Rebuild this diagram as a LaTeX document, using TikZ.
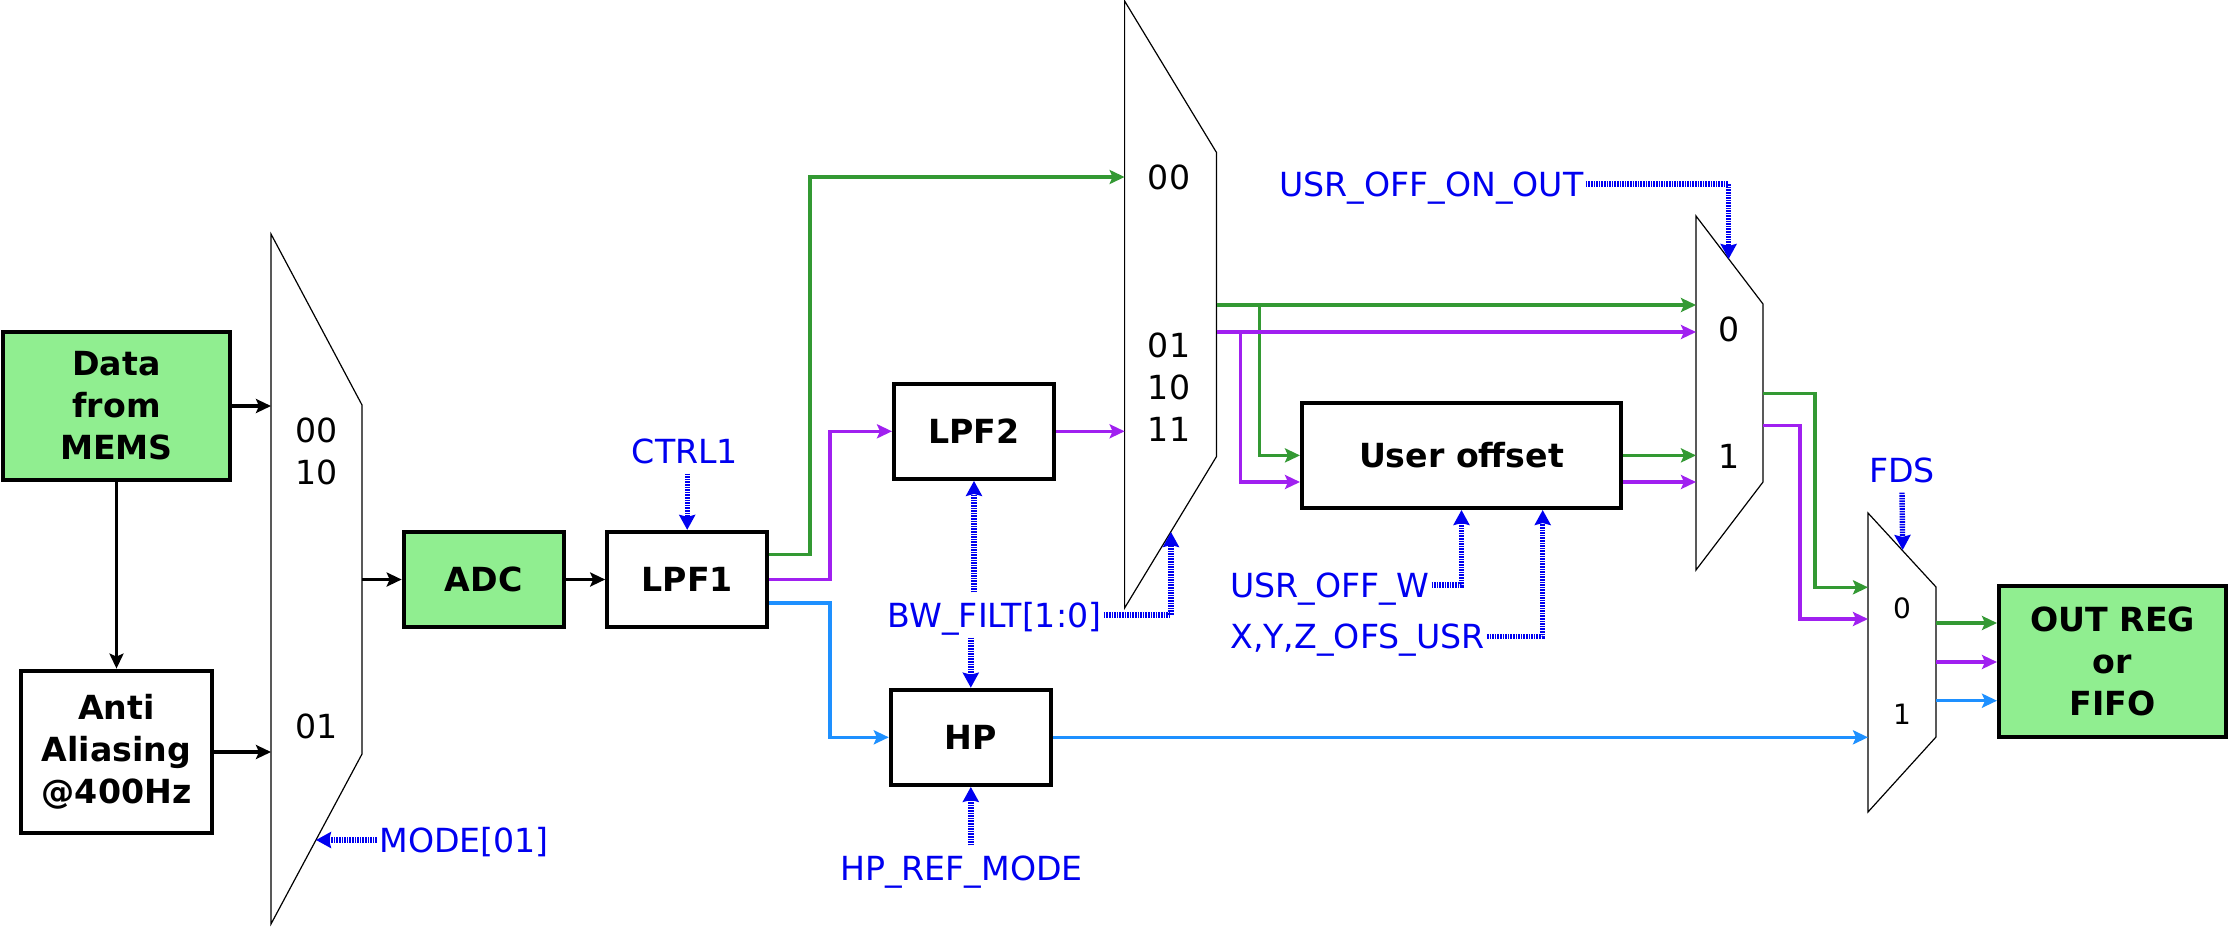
\documentclass[tikz,border=0pt]{standalone}
\usepackage{fontspec}
\setmainfont{DejaVu Sans}
\usetikzlibrary{arrows.meta, positioning}

\definecolor{blockgreen}{RGB}{144,238,144}
\definecolor{lpgreen}{RGB}{51,153,51}
\definecolor{lppurple}{RGB}{160,32,240}
\definecolor{hpblue}{RGB}{30,144,255}
\definecolor{regblue}{RGB}{0,0,240}

\begin{document}
\begin{tikzpicture}[
  x=0.5pt, y=-0.5pt,
  box/.style={draw, line width=2pt, rectangle, align=center, inner sep=0pt, minimum width=80pt, minimum height=47.6pt, font=\fontsize{16.6}{21}\selectfont\bfseries},
  greenbox/.style={box, fill=blockgreen},
  mux/.style={draw, line width=0.6pt},
  sel/.style={inner sep=0pt, align=center, font=\fontsize{16.6}{21}\selectfont},
  reg/.style={inner xsep=1pt, inner ysep=5pt, text height=12.2pt, text depth=0pt, text=regblue, font=\fontsize{16.6}{21}\selectfont},
  arrow/.style={-{Stealth[length=7.5pt, width=7pt, inset=1.5pt]}, line width=1.6pt},
  greenarrow/.style={arrow, lpgreen},
  purplearrow/.style={arrow, lppurple},
  bluearrow/.style={arrow, hpblue},
  regarrow/.style={-{Stealth[length=7.5pt, width=8pt, inset=1pt]}, regblue, line width=2.7pt, dash pattern=on 0.8pt off 0.5pt}
]
\path[use as bounding box, fill=white] (0,0) rectangle (2229,927);

% Nodes
\node (data) [greenbox, minimum width=113.5pt, minimum height=74pt] at (116.5,406) {Data\\from\\MEMS};
\node (anti) [box, minimum width=95.7pt, minimum height=81.4pt] at (116.5,752) {Anti\\Aliasing\\@400Hz};
\node (adc) [greenbox] at (483.7,579.5) {ADC};
\node (lpf1) [box] at (687.2,579.5) {LPF1};
\node (lpf2) [box] at (974,431.3) {LPF2};
\node (hp) [box] at (970.8,737.3) {HP};
\node (uo) [box, minimum width=159.5pt, minimum height=52.6pt] at (1461.5,455.4) {User offset};
\node (outreg) [greenbox, minimum width=113.5pt, minimum height=75.5pt] at (2112.5,661.5) {OUT REG\\or\\FIFO};

% Multiplexers
\draw[mux] (271,234) -- (362,405) -- (362,754) -- (271,924) -- cycle;
\draw[mux] (1124.6,1) -- (1216.5,152.5) -- (1216.5,456.5) -- (1124.6,608) -- cycle;
\draw[mux] (1696,216) -- (1763,304) -- (1763,482) -- (1696,570) -- cycle;
\draw[mux] (1868,513) -- (1936,587) -- (1936,737) -- (1868,812) -- cycle;

\node (m1a) [sel] at (317,451.2) {00\\10};
\node (m1b) [sel] at (317,726) {01};
\node (m2a) [sel] at (1169,177) {00};
\node (m2b) [sel] at (1169,387.6) {01\\10\\11};
\node (m4a) [sel] at (1728.6,329) {0};
\node (m4b) [sel] at (1728.6,456) {1};
\node (m3a) [sel, font=\fontsize{14}{17}\selectfont] at (1902,608) {0};
\node (m3b) [sel, font=\fontsize{14}{17}\selectfont] at (1902,714) {1};

% Mux ports
\coordinate (m1in0) at (271,406);
\coordinate (m1in1) at (271,753);
\coordinate (m1out) at (362,579.5);
\coordinate (m1sel) at (316,840);
\coordinate (m2in00) at (1124.6,177);
\coordinate (m2in11) at (1124.6,431.3);
\coordinate (m2outg) at (1216.5,305);
\coordinate (m2outp) at (1216.5,332);
\coordinate (m2sel) at (1171,532);
\coordinate (m4in0g) at (1696,305);
\coordinate (m4in0p) at (1696,332);
\coordinate (m4in1g) at (1696,455.4);
\coordinate (m4in1p) at (1696,482);
\coordinate (m4outg) at (1763,393.4);
\coordinate (m4outp) at (1763,425.6);
\coordinate (m4sel) at (1728.6,259);
\coordinate (m3in0g) at (1868,587.3);
\coordinate (m3in0p) at (1868,619);
\coordinate (m3in1) at (1868,737.3);
\coordinate (m3outg) at (1936,623);
\coordinate (m3outp) at (1936,662);
\coordinate (m3outb) at (1936,700.7);
\coordinate (m3sel) at (1902.7,550);

% Register labels
\node (mode) [reg, anchor=west] at (377,840) {MODE[01]};
\node (ctrl1) [reg] at (685,451) {CTRL1};
\node (bw) [reg] at (994.6,615) {BW\_FILT[1:0]};
\node (hpref) [reg] at (961.4,868) {HP\_REF\_MODE};
\node (usroo) [reg] at (1431.3,184) {USR\_OFF\_ON\_OUT};
\node (usrw) [reg, anchor=west] at (1228,585) {USR\_OFF\_W};
\node (xyz) [reg, anchor=west] at (1228,636.7) {X,Y,Z\_OFS\_USR};
\node (fds) [reg] at (1902,470) {FDS};

% Arrows
\draw[arrow] (data.east) -- (m1in0);
\draw[arrow] (data.south) -- (anti.north);
\draw[arrow] (anti.east) -- (anti.east -| m1in1);
\draw[arrow] (m1out) -- (adc.west);
\draw[arrow] (adc.east) -- (lpf1.west);

\draw[greenarrow] ([yshift=12.5pt]lpf1.east) -- ++(40.8,0) |- (m2in00);
\draw[greenarrow] (m2outg) -- (m4in0g);
\draw[greenarrow] (m2outg) -- ++(43.3,0) |- (uo.west);
\draw[greenarrow] (uo.east) -- (m4in1g);
\draw[greenarrow] (m4outg) -- ++(52,0) |- (m3in0g);
\draw[greenarrow] (m3outg) -- (m3outg -| outreg.west);

\draw[purplearrow] (lpf1.east) -- ++(60.8,0) |- (lpf2.west);
\draw[purplearrow] (lpf2.east) -- (m2in11);
\draw[purplearrow] (m2outp) -- (m4in0p);
\draw[purplearrow] (m2outp) -- ++(24.1,0) |- ([yshift=-13.3pt]uo.west);
\draw[purplearrow] ([yshift=-13.3pt]uo.east) -- (m4in1p);
\draw[purplearrow] (m4outp) -- ++(37,0) |- (m3in0p);
\draw[purplearrow] (m3outp) -- (m3outp -| outreg.west);

\draw[bluearrow] ([yshift=-11.75pt]lpf1.east) -- ++(60.8,0) |- (hp.west);
\draw[bluearrow] (hp.east) -- (m3in1);
\draw[bluearrow] (m3outb) -- (m3outb -| outreg.west);

\draw[regarrow] (mode.west) -- (m1sel);
\draw[regarrow] (ctrl1.south -| lpf1.north) -- (lpf1.north);
\draw[regarrow] (bw.north -| lpf2.south) -- (lpf2.south);
\draw[regarrow] (bw.south -| hp.north) -- (hp.north);
\draw[regarrow] (bw.east) -| (m2sel);
\draw[regarrow] (hpref.north -| hp.south) -- (hp.south);
\draw[regarrow] (usroo.east) -| (m4sel);
\draw[regarrow] (usrw.east) -| (uo.south);
\draw[regarrow] (xyz.east) -| ([xshift=40.6pt]uo.south);
\draw[regarrow] (fds.south) -- (m3sel);

\end{tikzpicture}
\end{document}
